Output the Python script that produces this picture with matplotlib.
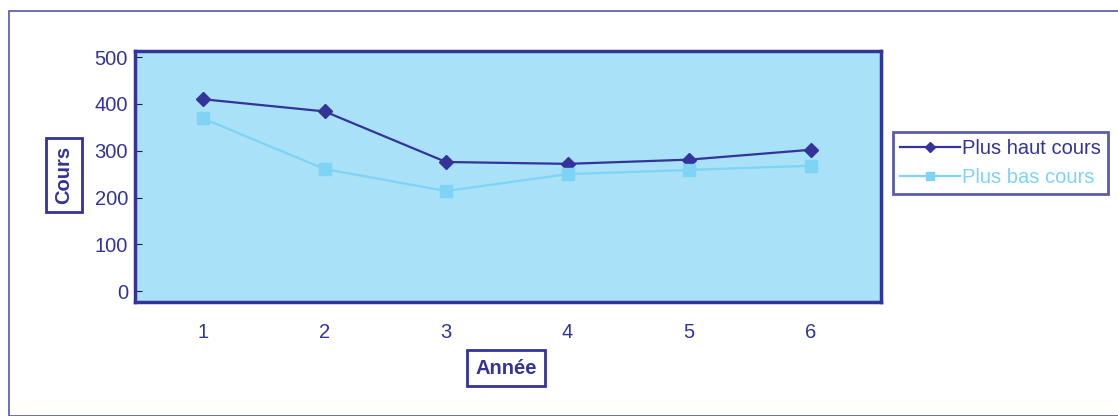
import matplotlib.pyplot as plt
from matplotlib.patches import Rectangle

plt.rcParams['font.family'] = ['Liberation Sans', 'DejaVu Sans']

annees = [1, 2, 3, 4, 5, 6]
plus_haut = [410, 384, 276, 272, 281, 302]
plus_bas = [369, 261, 214, 250, 259, 268]
yticks = [0, 100, 200, 300, 400, 500]

navy = '#333399'
clair = '#7fd3f5'
fond = '#a8e1f8'

fig = plt.figure(figsize=(11.18, 4.16), dpi=100)
fig.patches.append(Rectangle((9 / 1118, 0), 1.2, 1 - 11 / 416, transform=fig.transFigure,
                             fill=False, edgecolor='#5555aa', linewidth=1.2))

ax = fig.add_axes([135 / 1118, 1 - 302 / 416, 746 / 1118, 251 / 416])
ax.set_facecolor(fond)
ax.plot(annees, plus_haut, color=navy, marker='D', markersize=7, linewidth=1.6,
        label='Plus haut cours')
ax.plot(annees, plus_bas, color=clair, marker='s', markersize=8, linewidth=1.6,
        label='Plus bas cours')

ax.set_xlim(0.44, 6.58)
ax.set_ylim(-23, 513)
ax.set_xticks(annees)
ax.set_yticks(yticks)
ax.tick_params(axis='y', direction='in', length=5, color='#222222', labelcolor=navy,
               labelsize=14.5, pad=5)
ax.tick_params(axis='x', length=0, labelcolor=navy, labelsize=14.5, pad=15)
for s in ax.spines.values():
    s.set_color(navy)
    s.set_linewidth(2.5)

box = dict(boxstyle='square,pad=0.4', facecolor='white', edgecolor=navy, linewidth=2)
fig.text(64 / 1118, 1 - 175 / 416, 'Cours', rotation=90, ha='center', va='center',
         fontsize=14.5, fontweight='bold', color=navy, bbox=box)
fig.text(506 / 1118, 1 - 368 / 416, 'Année', ha='center', va='center',
         fontsize=14.5, fontweight='bold', color=navy, bbox=box)

leg = ax.legend(loc='center left', bbox_to_anchor=(893 / 1118, 1 - 163 / 416),
                bbox_transform=fig.transFigure, fontsize=14.5, frameon=True, fancybox=False,
                handlelength=3, borderpad=0.35, labelspacing=0.5, handletextpad=0.1,
                borderaxespad=0, markerscale=0.75)
leg.get_frame().set_edgecolor(navy)
leg.get_frame().set_linewidth(2)
for t, c in zip(leg.get_texts(), [navy, clair]):
    t.set_color(c)

fig.savefig('out.png', dpi=100)
